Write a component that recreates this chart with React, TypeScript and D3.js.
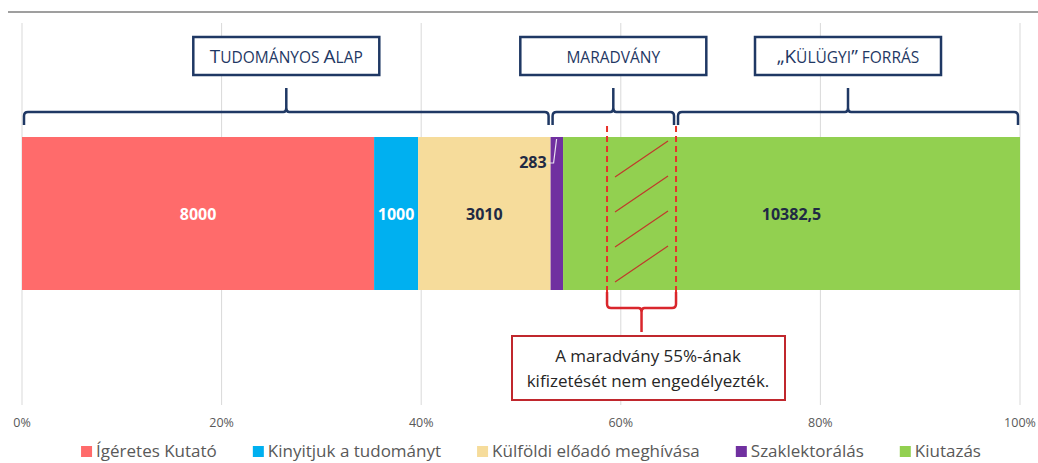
import { useEffect, useRef } from "react";
import { scaleLinear, select } from "d3";

const categories = [
  "Ígéretes Kutató",
  "Kinyitjuk a tudományt",
  "Külföldi előadó meghívása",
  "Szaklektorálás",
  "Kiutazás",
];
const values = [8000, 1000, 3010, 283, 10382.5];
const valueLabels = ["8000", "1000", "3010", "283", "10382,5"];
const colors = ["#ff6b6b", "#00b0f0", "#f6dc9b", "#7030a0", "#92d050"];
const labelColors = ["#ffffff", "#ffffff", "#1f2a44", "#1f2a44", "#1f2a44"];
const ticks = [0, 0.2, 0.4, 0.6, 0.8, 1];

// brace groups (cumulative values)
const groupNames = ["Tudományos Alap", "maradvány", "„Külügyi” forrás"];
const groupEnds = [12010, 14860, 22675.5];
const blockedShare = 0.55;
const noteLines = ["A maradvány 55%-ának", "kifizetését nem engedélyezték."];

const W = 1038;
const H = 463;
const margin = { left: 22, right: 18 };
const barTop = 137;
const barBottom = 290;
const navy = "#1f3864";
const font = "'Open Sans', sans-serif";

function bracePath(x0: number, x1: number, yH: number, yEnd: number, tip: number) {
  const xm = (x0 + x1) / 2;
  const r = 4;
  const dir = yEnd > yH ? 1 : -1;
  return `M${x0},${yEnd} L${x0},${yH + dir * r} Q${x0},${yH} ${x0 + r},${yH}
    L${xm - 3},${yH} Q${xm},${yH} ${xm},${yH - dir * 4} L${xm},${tip}
    M${xm},${yH - dir * 4} Q${xm},${yH} ${xm + 3},${yH}
    L${x1 - r},${yH} Q${x1},${yH} ${x1},${yH + dir * r} L${x1},${yEnd}`;
}

function SmallCaps({ text, x, y }: { text: string; x: number; y: number }) {
  const parts = text.split("").map((c, i) => {
    const big = c !== c.toLowerCase() || c === "„" || c === "”";
    return (
      <tspan key={i} fontSize={big ? 19 : 15.5}>
        {c.toUpperCase()}
      </tspan>
    );
  });
  return (
    <text x={x} y={y} textAnchor="middle" fill={navy} fontFamily={font}>
      {parts}
    </text>
  );
}

function Legend() {
  const ref = useRef<SVGGElement>(null);
  useEffect(() => {
    const g = select(ref.current);
    g.selectAll("*").remove();
    const items = g
      .selectAll("g")
      .data(categories)
      .join("g");
    items
      .append("rect")
      .attr("width", 11)
      .attr("height", 11)
      .attr("y", -11)
      .attr("fill", (_, i) => colors[i]);
    items
      .append("text")
      .attr("x", 15)
      .attr("font-family", font)
      .attr("font-size", 17)
      .attr("fill", "#595959")
      .text((d) => d);
    const widths: number[] = [];
    items.each(function () {
      widths.push((this as SVGGElement).getBBox().width);
    });
    const gap = 36;
    const total = widths.reduce((a, b) => a + b, 0) + gap * (widths.length - 1);
    let x = 531 - total / 2;
    items.attr("transform", (_, i) => {
      const t = `translate(${x},${457})`;
      x += widths[i] + gap;
      return t;
    });
  }, []);
  return <g ref={ref} />;
}

export default function App() {
  const total = values.reduce((a, b) => a + b, 0);
  const x = scaleLinear().domain([0, total]).range([margin.left, W - margin.right]);
  const pct = scaleLinear().domain([0, 1]).range([margin.left, W - margin.right]);
  const starts = values.map((_, i) => values.slice(0, i).reduce((a, b) => a + b, 0));
  const groupStarts = groupEnds.map((_, i) => (i === 0 ? 0 : groupEnds[i - 1]));

  const remStart = groupStarts[1];
  const remEnd = groupEnds[1];
  const hatchX0 = x(remEnd - (remEnd - remStart) * blockedShare);
  const hatchX1 = x(remEnd);
  const diagYs = [0, 1, 2, 3].map((k) => barTop + 40 + k * 35);

  return (
    <svg
      width={W}
      height={H}
      style={{ position: "absolute", left: 0, top: 0, background: "#fff" }}
    >
      <line x1={8} x2={W} y1={12} y2={12} stroke="#7f7f7f" strokeWidth={1.5} />
      {ticks.map((t) => (
        <g key={t}>
          <line x1={pct(t)} x2={pct(t)} y1={23} y2={405} stroke="#d9d9d9" strokeWidth={1} />
          <text
            x={pct(t)}
            y={427}
            textAnchor="middle"
            fontFamily={font}
            fontSize={12.5}
            fill="#595959"
          >
            {`${Math.round(t * 100)}%`}
          </text>
        </g>
      ))}

      {values.map((v, i) => (
        <rect
          key={categories[i]}
          x={x(starts[i])}
          y={barTop}
          width={x(starts[i] + v) - x(starts[i])}
          height={barBottom - barTop}
          fill={colors[i]}
        />
      ))}
      {values.map((v, i) =>
        i === 3 ? (
          <g key={i}>
            <polyline
              points={`${x(starts[i]) - 3},${163} ${x(starts[i]) + 3},${163} ${x(starts[i]) + 6},${139}`}
              fill="none"
              stroke="#e8e0f0"
              strokeWidth={1.2}
            />
            <text
              x={x(starts[i]) - 4}
              y={168}
              textAnchor="end"
              fontFamily={font}
              fontWeight={700}
              fontSize={16}
              fill={labelColors[i]}
            >
              {valueLabels[i]}
            </text>
          </g>
        ) : (
          <text
            key={i}
            x={x(starts[i] + v / 2)}
            y={220}
            textAnchor="middle"
            fontFamily={font}
            fontWeight={700}
            fontSize={16}
            fill={labelColors[i]}
          >
            {valueLabels[i]}
          </text>
        )
      )}

      {/* hatched blocked part of the remainder */}
      {diagYs.map((y) => (
        <line
          key={y}
          x1={hatchX0 + 8}
          x2={hatchX1 - 8}
          y1={y}
          y2={y - 36}
          stroke="#c0392b"
          strokeWidth={1.2}
        />
      ))}
      {[hatchX0, hatchX1].map((hx) => (
        <line
          key={hx}
          x1={hx}
          x2={hx}
          y1={126}
          y2={302}
          stroke="#e8302a"
          strokeWidth={2}
          strokeDasharray="6,4"
        />
      ))}
      <path
        d={bracePath(hatchX0, hatchX1, 308, 292, 332)}
        fill="none"
        stroke="#d9262c"
        strokeWidth={2.5}
      />
      <rect
        x={512}
        y={336}
        width={273}
        height={64}
        fill="#fff"
        stroke="#c0272d"
        strokeWidth={2}
      />
      {noteLines.map((l, i) => (
        <text
          key={l}
          x={648}
          y={362 + i * 25}
          textAnchor="middle"
          fontFamily={font}
          fontSize={17}
          fill="#262626"
        >
          {l}
        </text>
      ))}

      {/* group braces and titles */}
      {groupNames.map((name, i) => {
        const x0 = x(groupStarts[i]) + 2;
        const x1 = x(groupEnds[i]) - 2;
        const xm = (x0 + x1) / 2;
        return (
          <g key={name}>
            <path
              d={bracePath(x0, x1, 112, 125, 88)}
              fill="none"
              stroke={navy}
              strokeWidth={2.5}
            />
            <rect
              x={xm - 93}
              y={37}
              width={186}
              height={38}
              fill="#fff"
              stroke={navy}
              strokeWidth={2.5}
            />
            <SmallCaps text={name} x={xm} y={63} />
          </g>
        );
      })}

      <Legend />
    </svg>
  );
}
